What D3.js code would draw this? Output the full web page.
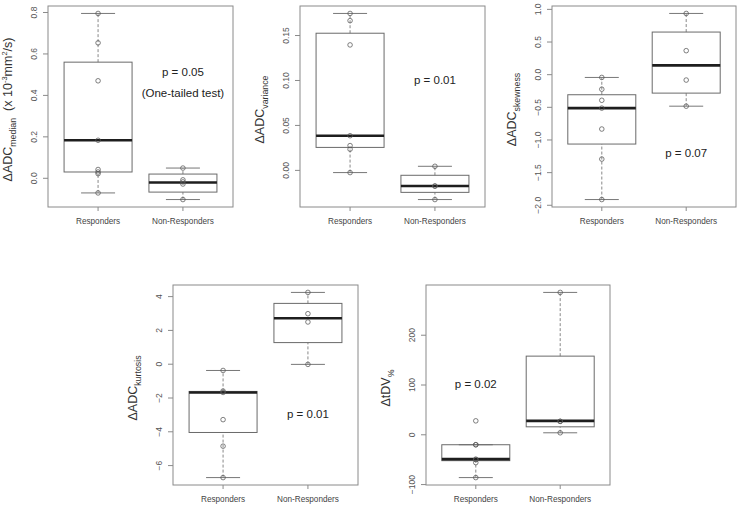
<!DOCTYPE html>
<html>
<head>
<meta charset="utf-8">
<script src="https://cdn.jsdelivr.net/npm/d3@7/dist/d3.min.js"></script>
<style>
  body { margin: 0; background: #fff; }
  text { font-family: "Liberation Sans", Arial, sans-serif; }
</style>
</head>
<body>
<svg id="chart" width="739" height="509"></svg>
<script>
const groups = ['Responders', 'Non-Responders'];

// box stats per group: [lower whisker, lower hinge, median, upper hinge, upper whisker]
const medianTicks = [0.0, 0.2, 0.4, 0.6, 0.8];
const medianStats = [[-0.073, 0.028, 0.181, 0.558, 0.793], [-0.105, -0.069, -0.023, 0.018, 0.047]];
const medianPoints = [[0.793, 0.651, 0.468, 0.181, 0.04, 0.028, 0.02, -0.073], [0.047, -0.01, -0.02, -0.03, -0.105]];

const varianceTicks = [0.00, 0.05, 0.10, 0.15];
const varianceStats = [[-0.003, 0.025, 0.038, 0.152, 0.174], [-0.033, -0.025, -0.018, -0.006, 0.004]];
const variancePoints = [[0.174, 0.166, 0.139, 0.038, 0.027, 0.023, -0.003], [0.004, -0.018, -0.018, -0.033]];

const skewTicks = [-2.0, -1.5, -1.0, -0.5, 0.0, 0.5, 1.0];
const skewStats = [[-1.92, -1.07, -0.52, -0.315, -0.05], [-0.49, -0.29, 0.135, 0.645, 0.93]];
const skewPoints = [[-0.05, -0.23, -0.40, -0.52, -0.84, -1.30, -1.92], [0.93, 0.36, -0.09, -0.49]];

const kurtTicks = [-6, -4, -2, 0, 2, 4];
const kurtStats = [[-6.74, -4.07, -1.70, -1.64, -0.40], [-0.04, 1.25, 2.69, 3.57, 4.22]];
const kurtPoints = [[-0.40, -1.62, -1.70, -3.31, -4.88, -6.74], [4.22, 2.96, 2.47, -0.04]];

const tdvTicks = [-100, 0, 100, 200];
const tdvStats = [[-87, -53, -50, -21, -21], [3, 15, 27, 157, 285]];
const tdvPoints = [[27, -21, -21, -50, -51, -57, -87], [285, 26, 26, 3]];

const svg = d3.select('#chart');

const panels = [
  {
    box: {x: 48, y: 6, w: 185, h: 201}, ticks: medianTicks, stats: medianStats, points: medianPoints,
    fmt: d3.format('.1f'),
    title: [['\u0394ADC', 0], ['median', 1], ['  (x 10', 0], ['-3', 2], ['mm', 0], ['2', 2], ['/s)', 0]],
    notes: [{g: 1, v: 0.51, t: 'p = 0.05'}, {g: 1, v: 0.407, t: '(One-tailed test)'}]
  },
  {
    box: {x: 300, y: 6, w: 185, h: 201}, ticks: varianceTicks, stats: varianceStats, points: variancePoints,
    fmt: d3.format('.2f'),
    title: [['\u0394ADC', 0], ['variance', 1]],
    notes: [{g: 1, v: 0.10, t: 'p = 0.01'}]
  },
  {
    box: {x: 552, y: 6, w: 184, h: 201}, ticks: skewTicks, stats: skewStats, points: skewPoints,
    fmt: d3.format('.1f'),
    title: [['\u0394ADC', 0], ['skewness', 1]],
    notes: [{g: 1, v: -1.20, t: 'p = 0.07'}]
  },
  {
    box: {x: 173, y: 285, w: 185, h: 200}, ticks: kurtTicks, stats: kurtStats, points: kurtPoints,
    fmt: d3.format('d'),
    title: [['\u0394ADC', 0], ['kurtosis', 1]],
    notes: [{g: 1, v: -3.0, t: 'p = 0.01'}]
  },
  {
    box: {x: 426, y: 285, w: 184, h: 200}, ticks: tdvTicks, stats: tdvStats, points: tdvPoints,
    fmt: d3.format('d'),
    title: [['\u0394tDV', 0], ['%', 1]],
    notes: [{g: 0, v: 102, t: 'p = 0.02'}]
  }
];

panels.forEach(drawPanel);

function drawPanel (p) {
  const b = p.box;
  const all = p.points.flat().concat(p.stats.flat());
  const lo = d3.min(all), hi = d3.max(all);
  const pad = (hi - lo) * 0.04;

  const y = d3.scaleLinear().domain([lo - pad, hi + pad]).range([b.y + b.h, b.y]);
  const x = d3.scalePoint().domain(groups).range([b.x, b.x + b.w]).padding(0.59);

  const g = svg.append('g');

  // frame
  g.append('rect')
    .attr('x', b.x).attr('y', b.y)
    .attr('width', b.w).attr('height', b.h)
    .attr('fill', 'none').attr('stroke', '#8a8a8a').attr('stroke-width', 1);

  // y axis, labels turned along the axis like base R
  const yAxis = d3.axisLeft(y).tickValues(p.ticks).tickSize(5).tickFormat(p.fmt);
  const ya = g.append('g').attr('transform', `translate(${b.x},0)`).call(yAxis);
  ya.select('.domain').remove();
  ya.selectAll('.tick line').attr('stroke', '#8a8a8a');
  ya.selectAll('.tick text')
    .attr('x', 0).attr('dy', null)
    .attr('transform', 'translate(-11,0) rotate(-90)')
    .attr('text-anchor', 'middle')
    .attr('fill', '#555')
    .style('font-size', '8.5px');

  // x ticks and labels
  const xg = g.selectAll('.xt').data(groups).enter().append('g')
    .attr('transform', d => `translate(${x(d)},${b.y + b.h})`);
  xg.append('line').attr('y2', 4).attr('stroke', '#8a8a8a');
  xg.append('text')
    .attr('y', 17)
    .attr('text-anchor', 'middle')
    .attr('fill', '#444')
    .style('font-size', '8.2px')
    .text(d => d);

  // boxes
  const bw = 68, cw = 34;
  const bx = g.selectAll('.bx').data(p.stats).enter().append('g')
    .attr('transform', (d, i) => `translate(${x(groups[i])},0)`);

  bx.append('line')
    .attr('y1', d => y(d[0])).attr('y2', d => y(d[1]))
    .attr('stroke', '#888').attr('stroke-dasharray', '3,2');
  bx.append('line')
    .attr('y1', d => y(d[3])).attr('y2', d => y(d[4]))
    .attr('stroke', '#888').attr('stroke-dasharray', '3,2');
  bx.append('line')
    .attr('x1', -cw / 2).attr('x2', cw / 2)
    .attr('y1', d => y(d[0])).attr('y2', d => y(d[0]))
    .attr('stroke', '#777');
  bx.append('line')
    .attr('x1', -cw / 2).attr('x2', cw / 2)
    .attr('y1', d => y(d[4])).attr('y2', d => y(d[4]))
    .attr('stroke', '#777');
  bx.append('rect')
    .attr('x', -bw / 2).attr('width', bw)
    .attr('y', d => y(d[3])).attr('height', d => y(d[1]) - y(d[3]))
    .attr('fill', 'none').attr('stroke', '#6a6a6a');
  bx.append('line')
    .attr('x1', -bw / 2).attr('x2', bw / 2)
    .attr('y1', d => y(d[2])).attr('y2', d => y(d[2]))
    .attr('stroke', '#1e1e1e').attr('stroke-width', 2.6);

  // points
  p.points.forEach((pts, i) => {
    g.selectAll(null).data(pts).enter().append('circle')
      .attr('cx', x(groups[i])).attr('cy', d => y(d)).attr('r', 2.3)
      .attr('fill', 'none').attr('stroke', '#555').attr('stroke-opacity', 0.75)
      .attr('stroke-width', 1);
  });

  // y title with subscripts / superscripts
  const tx = b.x - 36, ty = b.y + b.h / 2 + 3;
  const title = g.append('text')
    .attr('transform', `translate(${tx},${ty}) rotate(-90)`)
    .attr('text-anchor', 'middle')
    .attr('fill', '#333')
    .style('font-size', '12.5px');
  let shift = 0;
  p.title.forEach(([t, kind]) => {
    const target = kind === 1 ? 3.5 : kind === 2 ? -5 : 0;
    title.append('tspan')
      .attr('dy', target - shift)
      .style('font-size', kind === 0 ? '12.5px' : kind === 1 ? '8.8px' : '7.5px')
      .style('white-space', 'pre')
      .text(t);
    shift = target;
  });

  // p-value notes
  p.notes.forEach(n => {
    g.append('text')
      .attr('x', x(groups[n.g])).attr('y', y(n.v))
      .attr('dy', '0.35em')
      .attr('text-anchor', 'middle')
      .attr('fill', '#222')
      .style('font-size', '11.5px')
      .text(n.t);
  });
}
</script>
</body>
</html>
